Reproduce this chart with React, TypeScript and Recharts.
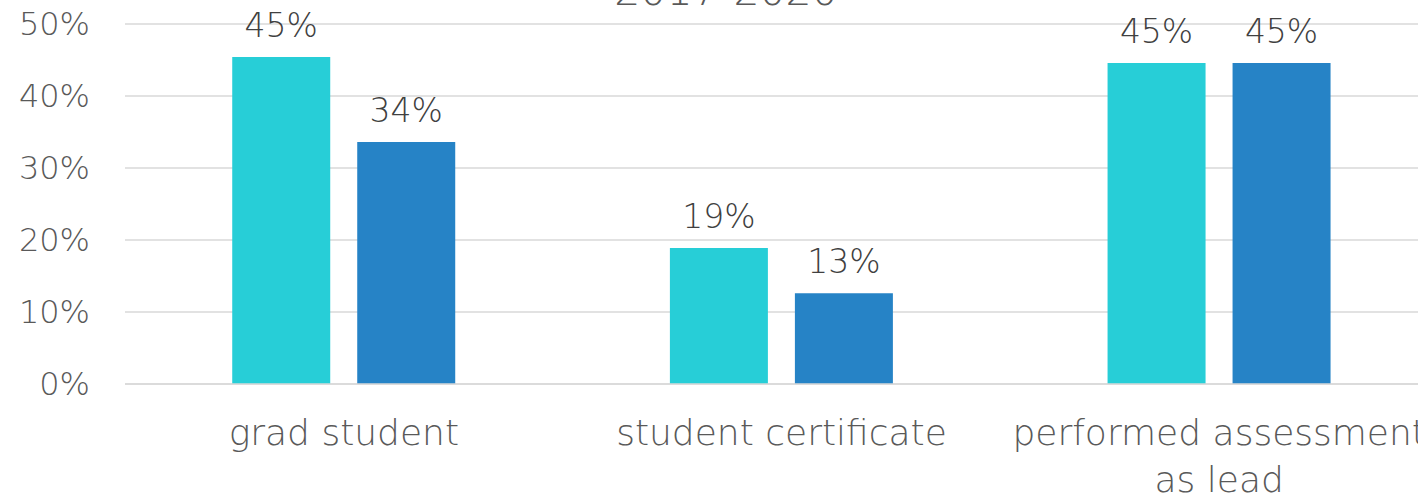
import React from "react";
import { BarChart, Bar, XAxis, YAxis, CartesianGrid, LabelList } from "recharts";

const categories = ["grad student", "student certificate", "performed assessment as lead"];
const seriesA = [45.4, 18.9, 44.6];
const seriesB = [33.6, 12.6, 44.6];
const yTicks = [0, 10, 20, 30, 40, 50];
const title = "2017-2020";

const data = categories.map((c, i) => ({ name: c, a: seriesA[i], b: seriesB[i] }));

const FONT = "'DejaVu Sans', sans-serif";
const W = 200;

function wrap(text: string, max: number): string[] {
  const words = text.split(" ");
  const lines: string[] = [];
  let cur = "";
  for (const w of words) {
    const next = cur ? cur + " " + w : w;
    if (next.length > max && cur) {
      lines.push(cur);
      cur = w;
    } else cur = next;
  }
  if (cur) lines.push(cur);
  return lines;
}

const CatTick = (props: any) => {
  const { x, payload } = props;
  const lines = wrap(String(payload.value), 20);
  return (
    <g transform={`translate(${x},0)`}>
      {lines.map((l, i) => (
        <text key={i} x={0} y={445 + i * 47} textAnchor="middle" fill="#595959" fontSize={36} fontFamily={FONT} fontWeight={W}>
          {l}
        </text>
      ))}
    </g>
  );
};

const fmt = (v: any) => `${Math.round(Number(v))}%`;

export default function App() {
  return (
    <div style={{ position: "fixed", left: 0, top: 0, width: 1418, height: 497, overflow: "hidden", background: "#fff" }}>
      <BarChart width={1438} height={497} data={data} margin={{ top: 24, right: 0, bottom: 0, left: 0 }} barCategoryGap="24.5%" barGap={27}>
        <CartesianGrid vertical={false} stroke="#d9d9d9" strokeWidth={1.5} />
        <XAxis dataKey="name" tick={<CatTick />} tickLine={false} axisLine={{ stroke: "#d9d9d9", strokeWidth: 1.5 }} height={113} interval={0} />
        <YAxis domain={[0, 50]} ticks={yTicks} tickFormatter={(v) => `${v}%`} tickLine={false} axisLine={false} tickSize={0} tickMargin={35} width={125} tick={{ fill: "#595959", fontSize: 32, fontFamily: FONT, fontWeight: W }} />
        <Bar dataKey="a" fill="#27CED7" isAnimationActive={false}>
          <LabelList dataKey="a" position="top" offset={20} formatter={fmt} fill="#404040" fontSize={33} fontFamily={FONT} fontWeight={W} />
        </Bar>
        <Bar dataKey="b" fill="#2683C6" isAnimationActive={false}>
          <LabelList dataKey="b" position="top" offset={20} formatter={fmt} fill="#404040" fontSize={33} fontFamily={FONT} fontWeight={W} />
        </Bar>
        <text x={726} y={5} textAnchor="middle" fill="#595959" fontSize={41} fontFamily={FONT} fontWeight={W}>
          {title}
        </text>
      </BarChart>
    </div>
  );
}
